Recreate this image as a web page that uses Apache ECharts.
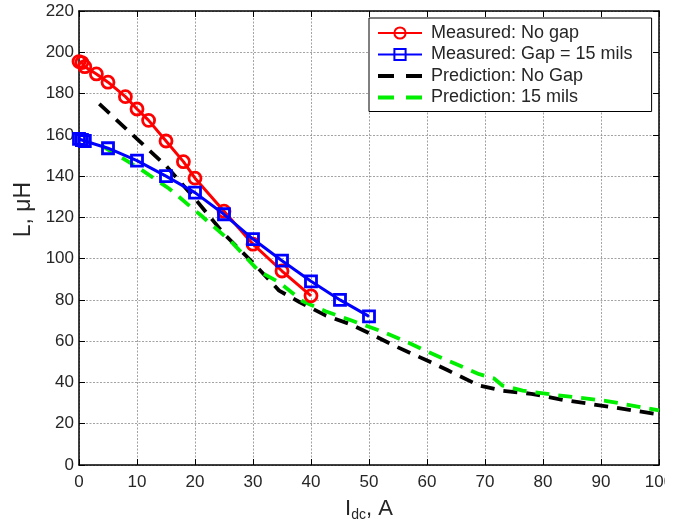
<!DOCTYPE html>
<html>
<head>
<meta charset="utf-8">
<script src="https://cdn.jsdelivr.net/npm/echarts@6/dist/echarts.min.js"></script>
<style>
  html, body { margin: 0; padding: 0; background: #fff; }
  #chart { width: 687px; height: 527px; }
</style>
</head>
<body>
<div id="chart"></div>
<script>
// Measured inductance, no gap
var noGapI = [0, 0.5, 1, 3, 5, 8, 10, 12, 15, 18, 20, 25, 30, 35, 40];
var noGapL = [195.5, 195, 193, 189.5, 185.5, 178.5, 172.5, 167, 157, 147, 139, 123, 107, 94, 82];

// Measured inductance, 15 mil gap
var gapI = [0, 0.5, 1, 5, 10, 15, 20, 25, 30, 35, 40, 45, 50];
var gapL = [158, 157.5, 157, 153.5, 147.5, 140, 132, 121.5, 109.5, 99, 89, 80, 72];

// Predicted inductance, no gap
var predNoGapI = [3.5, 10, 15, 20, 25, 30, 34.5, 38, 42.5, 47, 51, 55, 60.5, 63.5, 69, 73, 78, 83.5, 92, 100];
var predNoGapL = [175, 158, 145, 129, 112, 98, 84.5, 79, 72.5, 68, 62.5, 57, 50, 46, 38.5, 36, 34.5, 31.5, 28, 24.5];

// Predicted inductance, 15 mils
var pred15I = [4, 10, 15.5, 21, 26.5, 31, 34.5, 38.5, 42.5, 47, 52, 57, 60, 69, 71.5, 73, 76.5, 82, 91, 100];
var pred15L = [154.5, 144.5, 134, 121, 107.5, 94, 88.5, 79.5, 74.5, 70, 65, 59, 55, 44, 42, 38.5, 36, 34, 31, 26.5];

// Axis ranges
var xTicks = { min: 0, max: 100, step: 10 };
var yTicks = { min: 0, max: 220, step: 20 };

function pairs(xs, ys) { return xs.map(function (x, i) { return [x, ys[i]]; }); }

var font = 'Liberation Sans, Arial, Helvetica, sans-serif';
var txt = '#262626';

// two-dash legend glyph for the prediction curves
var dashIcon = 'path://M0,0h16v4h-16z M28,0h16v4h-16z';

var chart = echarts.init(document.getElementById('chart'), null, { renderer: 'canvas' });

var gridLine = { show: true, lineStyle: { color: '#8c8c8c', type: [2, 1.5], width: 0.8 } };
var frameLine = { show: true, onZero: false, lineStyle: { color: '#000', width: 1.5 } };
var innerTick = { show: true, inside: true, length: 6, lineStyle: { color: '#000', width: 1 } };

chart.setOption({
  animation: false,
  backgroundColor: '#fff',
  grid: { left: 79, right: 28, top: 11, bottom: 58 },
  legend: {
    orient: 'vertical',
    left: 369, top: 18,
    width: 280,
    backgroundColor: '#fff',
    borderColor: '#000', borderWidth: 1, borderRadius: 0,
    padding: [5, 19, 4, 8],
    itemGap: 1.5,
    itemWidth: 44, itemHeight: 14,
    textStyle: { fontFamily: font, fontSize: 18, color: txt, lineHeight: 20, padding: [0, 0, 0, 4] },
    data: [
      { name: 'Measured: No gap' },
      { name: 'Measured: Gap = 15 mils' },
      { name: 'Prediction: No Gap', icon: dashIcon, itemStyle: { borderWidth: 0 } },
      { name: 'Prediction: 15 mils', icon: dashIcon, itemStyle: { borderWidth: 0 } }
    ]
  },
  xAxis: [{
    type: 'value', min: xTicks.min, max: xTicks.max, interval: xTicks.step,
    name: '{m|I}{s|dc}{m|, A}', nameLocation: 'middle', nameGap: 31,
    nameTextStyle: { rich: {
      m: { fontFamily: font, fontSize: 22, color: txt },
      s: { fontFamily: font, fontSize: 14, color: txt, verticalAlign: 'bottom', padding: [12, 0, 0, 0] }
    } },
    axisLine: frameLine,
    axisTick: innerTick,
    axisLabel: { fontFamily: font, fontSize: 17, color: txt, margin: 9 },
    splitLine: gridLine
  }, {
    type: 'value', position: 'top', min: xTicks.min, max: xTicks.max, interval: xTicks.step,
    axisLine: frameLine, axisTick: innerTick,
    axisLabel: { show: false }, splitLine: { show: false }
  }],
  yAxis: [{
    type: 'value', min: yTicks.min, max: yTicks.max, interval: yTicks.step,
    name: 'L, μH', nameLocation: 'middle', nameGap: 44,
    nameTextStyle: { fontFamily: font, fontSize: 23, color: txt, padding: [0, 0, 0, 57] },
    axisLine: frameLine,
    axisTick: innerTick,
    axisLabel: { fontFamily: font, fontSize: 17, color: txt, margin: 5 },
    splitLine: gridLine
  }, {
    type: 'value', position: 'right', min: yTicks.min, max: yTicks.max, interval: yTicks.step,
    axisLine: frameLine, axisTick: innerTick,
    axisLabel: { show: false }, splitLine: { show: false }
  }],
  // the figure's right edge trims the last x tick label
  graphic: [{
    type: 'rect', z: 100,
    shape: { x: 665, y: 472, width: 30, height: 30 },
    style: { fill: '#fff' }
  }],
  series: [{
    name: 'Measured: No gap', type: 'line', data: pairs(noGapI, noGapL), z: 4,
    symbol: 'circle', symbolSize: 12,
    lineStyle: { color: '#ff0000', width: 3 },
    itemStyle: { color: 'rgba(255,255,255,0)', borderColor: '#ff0000', borderWidth: 2.8 }
  }, {
    name: 'Measured: Gap = 15 mils', type: 'line', data: pairs(gapI, gapL), z: 5,
    symbol: 'rect', symbolSize: 11,
    lineStyle: { color: '#0000ff', width: 3 },
    itemStyle: { color: 'rgba(255,255,255,0)', borderColor: '#0000ff', borderWidth: 2.8 }
  }, {
    name: 'Prediction: No Gap', type: 'line', data: pairs(predNoGapI, predNoGapL), z: 3,
    symbol: 'none',
    lineStyle: { color: '#000000', width: 3.8, type: [14, 9] },
    itemStyle: { color: '#000000', borderWidth: 0 }
  }, {
    name: 'Prediction: 15 mils', type: 'line', data: pairs(pred15I, pred15L), z: 3,
    symbol: 'none',
    lineStyle: { color: '#00ee00', width: 3.8, type: [14, 9] },
    itemStyle: { color: '#00ee00', borderWidth: 0 }
  }]
});
</script>
</body>
</html>
